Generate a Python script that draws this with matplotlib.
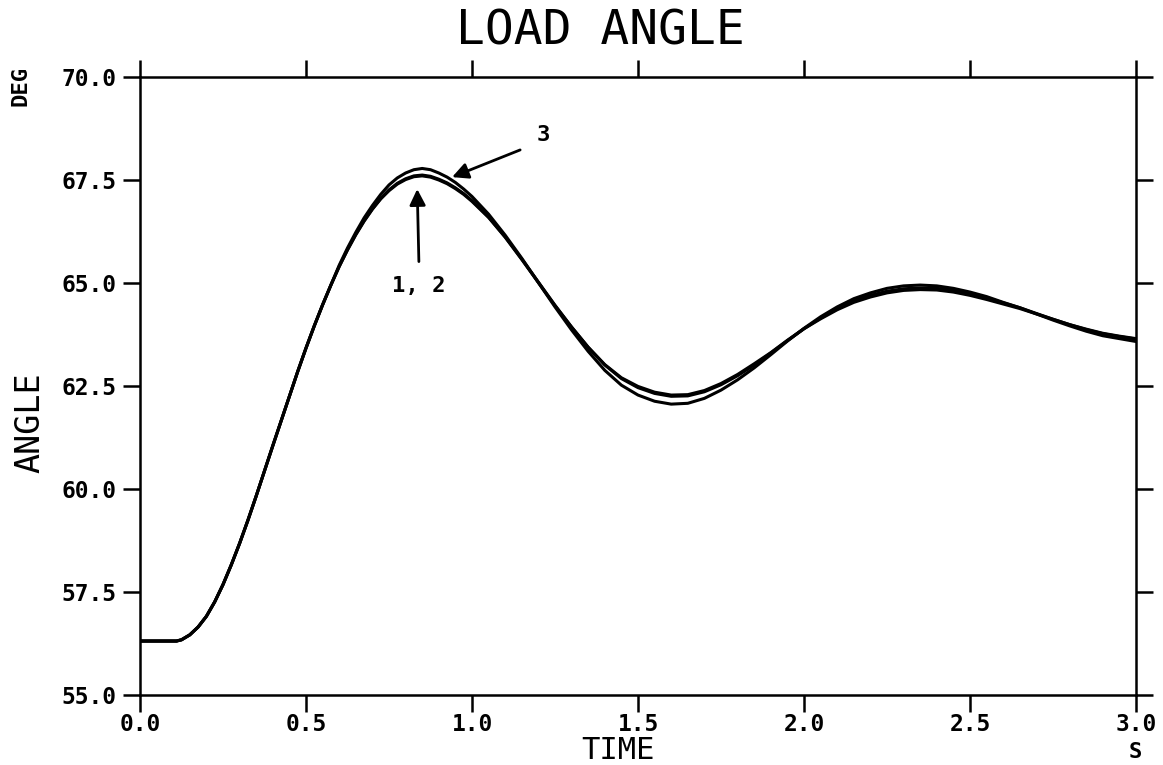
import matplotlib.pyplot as plt
from matplotlib.ticker import FixedLocator, FormatStrFormatter

# Load angle response for the three cases
time_s = [0.00, 0.05, 0.10, 0.11,
          0.125, 0.15, 0.175, 0.20, 0.225, 0.25, 0.275, 0.30, 0.325, 0.35,
          0.375, 0.40, 0.425, 0.45, 0.475, 0.50, 0.525, 0.55, 0.575, 0.60,
          0.625, 0.65, 0.675, 0.70, 0.725, 0.75, 0.775, 0.80, 0.825, 0.85,
          0.875, 0.90, 0.925, 0.95, 0.975, 1.00,
          1.05, 1.10, 1.15, 1.20, 1.25, 1.30, 1.35, 1.40, 1.45, 1.50,
          1.55, 1.60, 1.65, 1.70, 1.75, 1.80, 1.85, 1.90, 1.95, 2.00,
          2.05, 2.10, 2.15, 2.20, 2.25, 2.30, 2.35, 2.40, 2.45, 2.50,
          2.55, 2.60, 2.65, 2.70, 2.75, 2.80, 2.85, 2.90, 2.95, 3.00]

angle_1 = [56.31, 56.31, 56.31, 56.31,
           56.34, 56.46, 56.65, 56.91, 57.26, 57.68, 58.16, 58.68, 59.24, 59.83,
           60.44, 61.05, 61.65, 62.25, 62.85, 63.42, 63.96, 64.47, 64.95, 65.40,
           65.81, 66.18, 66.51, 66.80, 67.05, 67.26, 67.42, 67.53, 67.60, 67.62,
           67.59, 67.52, 67.43, 67.31, 67.17, 67.00,
           66.60, 66.12, 65.58, 65.02, 64.46, 63.93, 63.44, 63.01, 62.68, 62.46,
           62.32, 62.25, 62.26, 62.36, 62.53, 62.75, 63.01, 63.30, 63.60, 63.89,
           64.15, 64.38, 64.57, 64.70, 64.80, 64.86, 64.88, 64.87, 64.82, 64.74,
           64.64, 64.52, 64.40, 64.26, 64.12, 63.99, 63.87, 63.77, 63.70, 63.64]

angle_2 = [56.31, 56.31, 56.31, 56.31,
           56.34, 56.46, 56.65, 56.91, 57.26, 57.68, 58.16, 58.68, 59.24, 59.83,
           60.44, 61.05, 61.65, 62.25, 62.85, 63.42, 63.96, 64.47, 64.95, 65.40,
           65.80, 66.17, 66.50, 66.79, 67.04, 67.24, 67.40, 67.51, 67.58, 67.60,
           67.57, 67.50, 67.41, 67.29, 67.15, 66.98,
           66.59, 66.11, 65.57, 65.01, 64.45, 63.93, 63.44, 63.02, 62.70, 62.49,
           62.35, 62.28, 62.29, 62.39, 62.56, 62.78, 63.04, 63.31, 63.61, 63.89,
           64.13, 64.35, 64.53, 64.66, 64.76, 64.82, 64.84, 64.83, 64.78, 64.70,
           64.60, 64.49, 64.38, 64.25, 64.12, 63.99, 63.88, 63.78, 63.71, 63.65]

angle_3 = [56.31, 56.31, 56.31, 56.31,
           56.34, 56.46, 56.65, 56.91, 57.26, 57.68, 58.16, 58.68, 59.24, 59.83,
           60.44, 61.05, 61.65, 62.25, 62.85, 63.42, 63.96, 64.47, 64.95, 65.43,
           65.85, 66.23, 66.58, 66.88, 67.15, 67.38, 67.55, 67.67, 67.75, 67.78,
           67.75, 67.67, 67.57, 67.44, 67.28, 67.10,
           66.67, 66.16, 65.60, 65.01, 64.42, 63.86, 63.34, 62.88, 62.52, 62.28,
           62.13, 62.06, 62.08, 62.20, 62.40, 62.65, 62.94, 63.26, 63.59, 63.90,
           64.18, 64.42, 64.62, 64.76, 64.87, 64.93, 64.95, 64.93, 64.87, 64.78,
           64.67, 64.53, 64.40, 64.25, 64.10, 63.96, 63.83, 63.72, 63.65, 63.58]

x_ticks = [0.0, 0.5, 1.0, 1.5, 2.0, 2.5, 3.0]
y_ticks = [55.0, 57.5, 60.0, 62.5, 65.0, 67.5, 70.0]

MONO = "DejaVu Sans Mono"

fig = plt.figure(figsize=(11.63, 7.65), dpi=100)
ax = fig.add_axes([140 / 1163, 1 - 695 / 765, 996 / 1163, 618 / 765])

for series in (angle_1, angle_2, angle_3):
    ax.plot(time_s, series, color="black", lw=2.2, solid_capstyle="round",
            solid_joinstyle="round")

ax.set_xlim(0, 3.0)
ax.set_ylim(55.0, 70.0)
ax.xaxis.set_major_locator(FixedLocator(x_ticks))
ax.yaxis.set_major_locator(FixedLocator(y_ticks))
ax.xaxis.set_major_formatter(FormatStrFormatter("%.1f"))
ax.yaxis.set_major_formatter(FormatStrFormatter("%.1f"))

ax.tick_params(direction="out", length=12, width=1.8, top=True, right=True,
               labeltop=False, labelright=False)
ax.tick_params(axis="x", pad=1)
ax.tick_params(axis="y", pad=5)
for lab in ax.get_xticklabels() + ax.get_yticklabels():
    lab.set_fontfamily(MONO)
    lab.set_fontweight("bold")
    lab.set_fontsize(16.5)
for sp in ax.spines.values():
    sp.set_linewidth(1.8)

# Title and axis labels
fig.text(0.516, 0.960, "LOAD ANGLE", family=MONO, fontsize=34.5,
         ha="center", va="center")
fig.text(0.026, 0.448, "ANGLE", family=MONO, fontsize=24, rotation=90,
         ha="center", va="center")
fig.text(0.531, 0.019, "TIME", family=MONO, fontsize=22,
         ha="center", va="center")
fig.text(0.018, 0.888, "DEG", family=MONO, fontsize=16, fontweight="bold",
         rotation=90, ha="center", va="center")
fig.text(0.976, 0.017, "S", family=MONO, fontsize=16, fontweight="bold",
         ha="center", va="center")

# Case markers
arrow = dict(arrowstyle="-|>", color="black", lw=2.0, mutation_scale=24,
             shrinkA=0, shrinkB=0)
ax.annotate("", xy=(0.835, 67.28), xytext=(0.84, 65.52), arrowprops=arrow)
ax.text(0.84, 64.92, "1, 2", family=MONO, fontsize=16, fontweight="bold",
        ha="center", va="center")
ax.annotate("", xy=(0.94, 67.57), xytext=(1.145, 68.23), arrowprops=arrow)
ax.text(1.215, 68.6, "3", family=MONO, fontsize=16, fontweight="bold",
        ha="center", va="center")

fig.savefig("out.png", dpi=100)
